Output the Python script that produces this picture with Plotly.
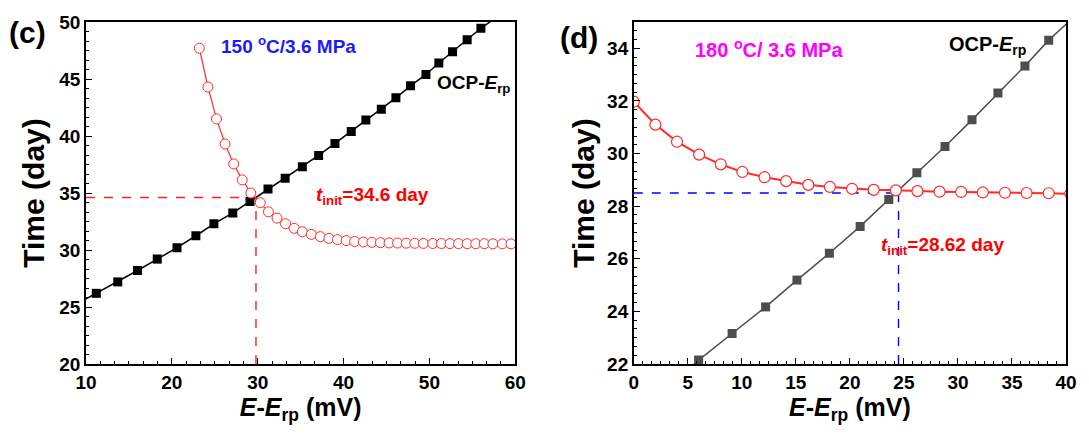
import plotly.graph_objects as go

# ---------- panel (c): 150 C / 3.6 MPa ----------
c_ocp_x = [11.2, 13.7, 16.0, 18.3, 20.6, 22.8, 24.9, 27.1, 29.1, 31.2, 33.2, 35.2,
           37.1, 39.0, 40.9, 42.6, 44.4, 46.1, 47.8, 49.6, 51.1, 52.7, 54.4, 56.0]
c_ocp_y = [26.2, 27.2, 28.2, 29.2, 30.2, 31.25, 32.3, 33.25, 34.25, 35.35, 36.3, 37.3,
           38.3, 39.35, 40.4, 41.4, 42.35, 43.35, 44.4, 45.4, 46.4, 47.4, 48.45, 49.45]
c_ocp_ext_x = [9.5, 57.6]
c_ocp_ext_y = [25.5, 50.3]

c_t_x = [23.2, 24.2, 25.2, 26.2, 27.2, 28.2, 29.2, 30.3, 31.25, 32.25, 33.25, 34.25, 35.2,
         36.25, 37.3, 38.3, 39.3, 40.3, 41.3, 42.3, 43.3, 44.3, 45.3, 46.3, 47.3, 48.3,
         49.3, 50.4, 51.4, 52.4, 53.4, 54.4, 55.4, 56.4, 57.4, 58.5, 59.5]
c_t_y = [47.7, 44.3, 41.5, 39.3, 37.55, 36.15, 35.0, 34.15, 33.35, 32.8, 32.3, 31.9, 31.6,
         31.37, 31.17, 31.02, 30.91, 30.82, 30.75, 30.7, 30.67, 30.64, 30.62, 30.61, 30.6,
         30.59, 30.58, 30.57, 30.57, 30.56, 30.56, 30.55, 30.55, 30.55, 30.54, 30.54, 30.54]
c_cross_x = 29.8
c_t_init = 34.6

# ---------- panel (d): 180 C / 3.6 MPa ----------
d_ocp_x = [6.0, 9.1, 12.2, 15.1, 18.1, 20.95, 23.6, 26.2, 28.8, 31.3, 33.7, 36.2, 38.4]
d_ocp_y = [22.15, 23.16, 24.17, 25.19, 26.21, 27.23, 28.25, 29.27, 30.27, 31.28, 32.3, 33.33, 34.31]
d_ocp_ext_x = [5.3, 40.5]
d_ocp_ext_y = [21.9, 35.1]

d_t_x = [0.0, 2.0, 4.0, 6.05, 8.05, 10.05, 12.1, 14.1, 16.15, 18.15, 20.2, 22.2, 24.25,
         26.25, 28.3, 30.3, 32.3, 34.35, 36.35, 38.4, 40.4]
d_t_y = [31.97, 31.1, 30.45, 29.96, 29.59, 29.3, 29.1, 28.95, 28.81, 28.73, 28.66, 28.62,
         28.6, 28.57, 28.55, 28.54, 28.52, 28.51, 28.5, 28.49, 28.47]
d_cross_x = 24.5
d_t_line = 28.5

FONT = "Liberation Sans, Arial, sans-serif"
RED = "#ff2a2a"

fig = go.Figure()

# panel c traces
fig.add_trace(go.Scatter(x=[c_ocp_ext_x[0]] + c_ocp_x + [c_ocp_ext_x[1]],
                         y=[c_ocp_ext_y[0]] + c_ocp_y + [c_ocp_ext_y[1]],
                         mode="lines", line=dict(color="black", width=1.5),
                         xaxis="x", yaxis="y", showlegend=False, hoverinfo="skip"))
fig.add_trace(go.Scatter(x=c_ocp_x, y=c_ocp_y, mode="markers",
                         marker=dict(symbol="square", size=9, color="black"),
                         xaxis="x", yaxis="y", showlegend=False))
fig.add_trace(go.Scatter(x=[10, c_cross_x], y=[c_t_init, c_t_init], mode="lines",
                         line=dict(color="#ff2020", width=1.4, dash="dash"),
                         xaxis="x", yaxis="y", showlegend=False))
fig.add_trace(go.Scatter(x=[c_cross_x, c_cross_x], y=[20, c_t_init], mode="lines",
                         line=dict(color="#ff2020", width=1.4, dash="dash"),
                         xaxis="x", yaxis="y", showlegend=False))
fig.add_trace(go.Scatter(x=c_t_x, y=c_t_y, mode="lines+markers",
                         line=dict(color=RED, width=1.2),
                         marker=dict(symbol="circle", size=10, color="white",
                                     line=dict(color=RED, width=1)),
                         xaxis="x", yaxis="y", showlegend=False))

# panel d traces
fig.add_trace(go.Scatter(x=[d_ocp_ext_x[0]] + d_ocp_x + [d_ocp_ext_x[1]],
                         y=[d_ocp_ext_y[0]] + d_ocp_y + [d_ocp_ext_y[1]],
                         mode="lines", line=dict(color="#4d4d4d", width=1.5),
                         xaxis="x2", yaxis="y2", showlegend=False, hoverinfo="skip"))
fig.add_trace(go.Scatter(x=d_ocp_x, y=d_ocp_y, mode="markers",
                         marker=dict(symbol="square", size=9, color="#4d4d4d"),
                         xaxis="x2", yaxis="y2", showlegend=False))
fig.add_trace(go.Scatter(x=[0, d_cross_x], y=[d_t_line, d_t_line], mode="lines",
                         line=dict(color="#0000ff", width=1.4, dash="dash"),
                         xaxis="x2", yaxis="y2", showlegend=False))
fig.add_trace(go.Scatter(x=[d_cross_x, d_cross_x], y=[22, d_t_line], mode="lines",
                         line=dict(color="#0000ff", width=1.4, dash="dash"),
                         xaxis="x2", yaxis="y2", showlegend=False))
fig.add_trace(go.Scatter(x=d_t_x, y=d_t_y, mode="lines+markers",
                         line=dict(color=RED, width=2),
                         marker=dict(symbol="circle", size=11, color="white",
                                     line=dict(color=RED, width=1.2)),
                         xaxis="x2", yaxis="y2", showlegend=False))

tickfont = dict(family=FONT, size=19, color="black", weight="bold")
xtitlefont = dict(family=FONT, size=25, color="black")
ytitlefont = dict(family=FONT, size=30, color="black")
xtitle = "<b><i>E</i>-<i>E</i><sub>rp</sub> (mV)</b>"
ytitle = "<b>Time (day)</b>"

common = dict(showline=True, linecolor="black", linewidth=1.5, mirror=True,
              ticks="inside", ticklen=6, tickwidth=1.3, tickcolor="black",
              showgrid=False, zeroline=False, tickfont=tickfont)

W_PLOT = 1089 - 86 - 16
fig.update_layout(
    width=1089, height=440,
    margin=dict(l=86, r=16, t=17, b=76),
    paper_bgcolor="white", plot_bgcolor="white",
    xaxis=dict(domain=[0, (518.3 - 86) / W_PLOT], range=[10, 60], dtick=10, tick0=10,
               minor=dict(dtick=10 / 6, tick0=10, ticks="inside", ticklen=3, tickcolor="black"),
               title=dict(text=xtitle, font=xtitlefont, standoff=6), anchor="y", **common),
    yaxis=dict(range=[20, 50], dtick=5, tick0=20,
               minor=dict(dtick=5 / 6, tick0=20, ticks="inside", ticklen=3, tickcolor="black"),
               title=dict(text=ytitle, font=ytitlefont, standoff=6), anchor="x", **common),
    xaxis2=dict(domain=[(637.7 - 86) / W_PLOT, 1], range=[0, 40], dtick=5, tick0=0,
                minor=dict(dtick=5 / 6, tick0=0, ticks="inside", ticklen=3, tickcolor="black"),
                title=dict(text=xtitle, font=xtitlefont, standoff=6), anchor="y2", **common),
    yaxis2=dict(range=[22, 35], tickvals=[22, 24, 26, 28, 30, 32, 34],
                minor=dict(dtick=1 / 3, tick0=22, ticks="inside", ticklen=3, tickcolor="black"),
                title=dict(text=ytitle, font=ytitlefont, standoff=4), anchor="x2", **common),
)

ann = []
ann.append(dict(x=25.5, y=48.0, xref="x", yref="y", xanchor="left", yanchor="middle",
                text="<b>150 <sup>o</sup>C/3.6 MPa</b>", showarrow=False,
                font=dict(family=FONT, size=19, color="#1a1aff")))
ann.append(dict(x=50.6, y=44.6, xref="x", yref="y", xanchor="left", yanchor="middle",
                text="<b>OCP-<i>E</i><sub>rp</sub></b>", showarrow=False,
                font=dict(family=FONT, size=19, color="black")))
ann.append(dict(x=36.6, y=34.7, xref="x", yref="y", xanchor="left", yanchor="middle",
                text="<b><i>t</i><sub>init</sub>=34.6 day</b>", showarrow=False,
                font=dict(family=FONT, size=19, color="#ff0000")))
ann.append(dict(x=5.5, y=34.0, xref="x2", yref="y2", xanchor="left", yanchor="middle",
                text="<b>180 <sup>o</sup>C/ 3.6 MPa</b>", showarrow=False,
                font=dict(family=FONT, size=20, color="#ff00ff")))
ann.append(dict(x=29.0, y=34.12, xref="x2", yref="y2", xanchor="left", yanchor="middle",
                text="<b>OCP-<i>E</i><sub>rp</sub></b>", showarrow=False,
                font=dict(family=FONT, size=20, color="black")))
ann.append(dict(x=22.65, y=26.5, xref="x2", yref="y2", xanchor="left", yanchor="middle",
                text="<b><i>t</i><sub>init</sub>=28.62 day</b>", showarrow=False,
                font=dict(family=FONT, size=19, color="#ff0000")))
ann.append(dict(x=(6 - 86) / W_PLOT, y=(364.3 - 28) / 347.3, xref="paper", yref="paper",
                xanchor="left", yanchor="middle", text="<b>(c)</b>", showarrow=False,
                font=dict(family=FONT, size=30, color="black")))
ann.append(dict(x=(561 - 86) / W_PLOT, y=(364.3 - 33) / 347.3, xref="paper", yref="paper",
                xanchor="left", yanchor="middle", text="<b>(d)</b>", showarrow=False,
                font=dict(family=FONT, size=30, color="black")))
fig.update_layout(annotations=ann)

fig.write_html("out.html")
